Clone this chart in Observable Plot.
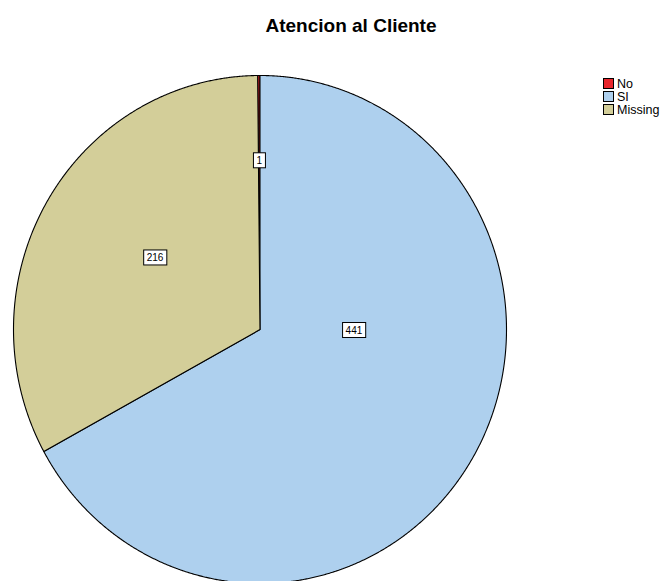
<!DOCTYPE html>
<html>
<head>
<meta charset="utf-8">
<script src="https://cdn.jsdelivr.net/npm/d3@7"></script>
<script src="https://cdn.jsdelivr.net/npm/@observablehq/plot@0.6"></script>
<style>
  html, body { margin: 0; padding: 0; background: #fff; overflow: hidden; }
  #wrap { position: relative; width: 671px; height: 581px; font-family: Arial, "Liberation Sans", sans-serif; }
  #title { position: absolute; left: 0; top: 15px; width: 702px; text-align: center; font-weight: bold; font-size: 19px; line-height: 22px; color: #000; }
  #legend { position: absolute; left: 603px; top: 77px; font-size: 12.5px; color: #000; }
  .row { display: flex; align-items: center; height: 13px; }
  .sw { width: 9px; height: 9px; border: 1px solid #000; margin-right: 3px; }
  #chart { position: absolute; left: 0; top: 0; }
</style>
</head>
<body>
<div id="wrap">
  <div id="chart"></div>
  <div id="title"></div>
  <div id="legend"></div>
</div>
<script>
// ---- data ----
const titleText = "Atencion al Cliente";
const categories = ["No", "SI", "Missing"];
const counts = [1, 441, 216];
// ---- styles ----
const colors = ["#e8262c", "#aed0ee", "#d3ce99"];
// label placement within each slice: fraction along the arc, fraction of radius
const labelLayout = [
  {t: 0.5, r: 0.665},
  {t: 0.375, r: 0.381},
  {t: 0.527, r: 0.511}
];

const rows = categories.map((c, i) => ({cat: c, n: counts[i]}));
const total = d3.sum(counts);
const start = -2 * Math.PI * counts[0] / total;
const arcs = d3.pie().sort(null).value(d => d.n)
  .startAngle(start).endAngle(start + 2 * Math.PI)(rows);

const pts = [];
arcs.forEach(a => {
  const cat = a.data.cat;
  pts.push({cat, x: 0, y: 0});
  const steps = Math.max(2, Math.ceil((a.endAngle - a.startAngle) / (Math.PI / 720)));
  for (let k = 0; k <= steps; k++) {
    const ang = a.startAngle + (a.endAngle - a.startAngle) * k / steps;
    pts.push({cat, x: Math.sin(ang), y: Math.cos(ang)});
  }
  pts.push({cat, x: 0, y: 0});
});

const labels = arcs.map((a, i) => {
  const L = labelLayout[i];
  const ang = a.startAngle + (a.endAngle - a.startAngle) * L.t;
  return {text: String(a.data.n), x: L.r * Math.sin(ang), y: L.r * Math.cos(ang)};
});

const plot = Plot.plot({
  width: 671,
  height: 581,
  x: {domain: [-1, 1], range: [13, 506], axis: null},
  y: {domain: [-1, 1], range: [583, 75], axis: null},
  color: {domain: categories, range: colors},
  style: {fontFamily: "Arial, 'Liberation Sans', sans-serif", background: "white", overflow: "hidden"},
  marks: [
    Plot.line(pts, {x: "x", y: "y", z: "cat", fill: "cat", stroke: "black", strokeWidth: 1.1, curve: "linear", strokeLinejoin: "round"}),
    Plot.text(labels, {x: "x", y: "y", text: "text", fontSize: 10, fill: "black"})
  ]
});
document.getElementById("chart").append(plot);

// white boxes behind labels
const ns = "http://www.w3.org/2000/svg";
plot.querySelectorAll('g[aria-label="text"] text').forEach(t => {
  const b = t.getBBox();
  const r = document.createElementNS(ns, "rect");
  const padX = 3, padY = 3;
  r.setAttribute("x", b.x - padX);
  r.setAttribute("y", b.y - padY + 1);
  r.setAttribute("width", b.width + 2 * padX);
  r.setAttribute("height", b.height + 2 * padY - 2);
  r.setAttribute("fill", "white");
  r.setAttribute("stroke", "black");
  r.setAttribute("stroke-width", "1");
  if (t.getAttribute("transform")) r.setAttribute("transform", t.getAttribute("transform"));
  t.parentNode.insertBefore(r, t);
});

document.getElementById("title").textContent = titleText;
const legend = document.getElementById("legend");
categories.forEach((c, i) => {
  const row = document.createElement("div");
  row.className = "row";
  const sw = document.createElement("div");
  sw.className = "sw";
  sw.style.background = colors[i];
  const tx = document.createElement("span");
  tx.textContent = c;
  row.append(sw, tx);
  legend.append(row);
});
</script>
</body>
</html>
